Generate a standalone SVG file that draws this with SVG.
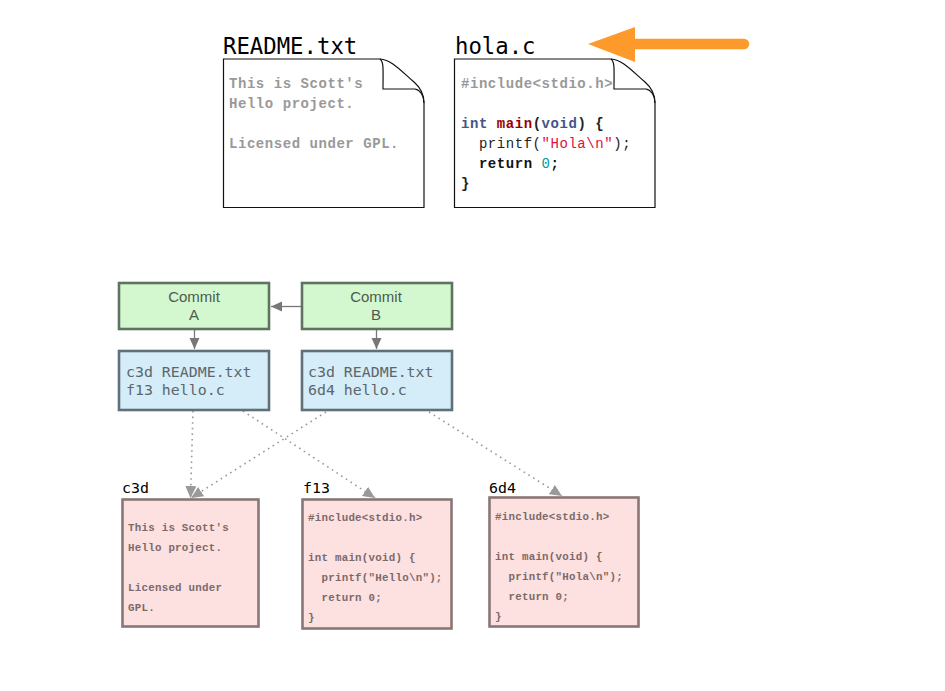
<svg xmlns="http://www.w3.org/2000/svg" width="945" height="691" viewBox="0 0 945 691">
<style>
.title{font-family:"DejaVu Sans Mono","Liberation Mono",monospace;font-size:22.3px;fill:#000}
.doc{font-family:"Liberation Mono",monospace;font-size:14px;letter-spacing:.55px;font-weight:bold}
.blob{font-family:"Liberation Mono",monospace;font-size:10.8px;letter-spacing:.25px;font-weight:bold;fill:#7a6a6a}
.page{fill:#fff;stroke:#111;stroke-width:1.2}
.fold{fill:none;stroke:#111;stroke-width:1.2}
.commit{fill:#d3f8d0;stroke:#5f7360;stroke-width:2.6}
.tree{fill:#d5edf8;stroke:#5f7078;stroke-width:2.6}
.blobbox{fill:#fde0e0;stroke:#8a7676;stroke-width:2.6}
.ct{font-family:"Liberation Sans",sans-serif;font-size:15px;fill:#4f5a4f;text-anchor:middle}
.tt{font-family:"DejaVu Sans Mono",monospace;font-size:14.9px;fill:#5c666c}
.lab{font-family:"DejaVu Sans Mono",monospace;font-size:14.9px;fill:#000}
.solid{stroke:#777;stroke-width:1.3;fill:none}
.dot{stroke:#999;stroke-width:1.6;stroke-dasharray:1.6 4;fill:none}
</style>
<defs>
<marker id="ah" markerUnits="userSpaceOnUse" markerWidth="12" markerHeight="12" refX="11" refY="6" orient="auto"><path d="M0,1 L11,6 L0,11 Z" fill="#777"/></marker>
<marker id="ad" markerUnits="userSpaceOnUse" markerWidth="13" markerHeight="13" refX="12" refY="6.500" orient="auto"><path d="M0,1 L12,6.500 L0,12 Z" fill="#999"/></marker>
</defs>
<g id="connectors">
<path class="solid" d="M302,306.500 L271,306.500" marker-end="url(#ah)"/>
<path class="solid" d="M194.500,330 L194.500,349" marker-end="url(#ah)"/>
<path class="solid" d="M376.500,330 L376.500,349" marker-end="url(#ah)"/>
<path class="dot" d="M193,411 L190.500,498" marker-end="url(#ad)"/>
<path class="dot" d="M326,412 L191,498" marker-end="url(#ad)"/>
<path class="dot" d="M243,411 L375,498" marker-end="url(#ad)"/>
<path class="dot" d="M429,412 L562,496" marker-end="url(#ad)"/>
<path d="M636,44 L744,44" stroke="#fd9a2b" stroke-width="10.500" stroke-linecap="round" fill="none"/>
<path d="M588,44 L635,27 L635,62 Z" fill="#fd9a2b"/>
</g>
<g id="readme">
<text class="title" x="223" y="54">README.txt</text>
<path class="page" d="M223.500,59 L380,59 C392,60 400,70 414,82 C421,88 424,94 424,103 L424,207.500 L223.500,207.500 Z"/>
<path class="fold" d="M380,59 C384,62 383,70 383,89 L415,89 C420,90 424,95 424,103"/>
<text class="doc" fill="#999" x="229" y="88">This is Scott's</text>
<text class="doc" fill="#999" x="229" y="108">Hello project.</text>
<text class="doc" fill="#999" x="229" y="148">Licensed under GPL.</text>
</g>
<g id="hola">
<text class="title" x="455" y="54">hola.c</text>
<path class="page" d="M454.500,59 L611,59 C623,60 631,70 645,82 C652,88 655,94 655,103 L655,207.500 L454.500,207.500 Z"/>
<path class="fold" d="M611,59 C615,62 614,70 614,89 L646,89 C651,90 655,95 655,103"/>
<text class="doc" fill="#999" x="461" y="88">#include&lt;stdio.h&gt;</text>
<text class="doc" x="461" y="128" fill="#222"><tspan fill="#445588">int</tspan> <tspan fill="#990000">main</tspan>(<tspan fill="#445588">void</tspan>) {</text>
<text class="doc" x="461" y="148" fill="#222" xml:space="preserve" style="font-weight:normal">  printf(<tspan fill="#dd1144">"Hola\n"</tspan>);</text>
<text class="doc" x="461" y="168" fill="#111" xml:space="preserve">  return <tspan fill="#009999" style="font-weight:normal">0</tspan>;</text>
<text class="doc" x="461" y="188" fill="#222">}</text>
</g>
<g id="commit-a">
<rect class="commit" x="119" y="283" width="150" height="46"/>
<text class="ct" x="194" y="302">Commit</text>
<text class="ct" x="194" y="320">A</text>
</g>
<g id="commit-b">
<rect class="commit" x="302" y="283" width="150" height="46"/>
<text class="ct" x="376" y="302">Commit</text>
<text class="ct" x="376" y="320">B</text>
</g>
<g id="tree-a">
<rect class="tree" x="119" y="351" width="150" height="59"/>
<text class="tt" x="126" y="377">c3d README.txt</text>
<text class="tt" x="126" y="395">f13 hello.c</text>
</g>
<g id="tree-b">
<rect class="tree" x="302" y="351" width="150" height="59"/>
<text class="tt" x="308" y="377">c3d README.txt</text>
<text class="tt" x="308" y="395">6d4 hello.c</text>
</g>
<g id="blob-c3d">
<text class="lab" x="122" y="493">c3d</text>
<rect class="blobbox" x="122.500" y="499.500" width="136" height="127"/>
<text class="blob" x="128" y="531">This is Scott's</text>
<text class="blob" x="128" y="551">Hello project.</text>
<text class="blob" x="128" y="591">Licensed under</text>
<text class="blob" x="128" y="611">GPL.</text>
</g>
<g id="blob-f13">
<text class="lab" x="303" y="493">f13</text>
<rect class="blobbox" x="302.500" y="499.500" width="149" height="129"/>
<text class="blob" x="308" y="521">#include&lt;stdio.h&gt;</text>
<text class="blob" x="308" y="561">int main(void) {</text>
<text class="blob" x="308" y="581" xml:space="preserve">  printf("Hello\n");</text>
<text class="blob" x="308" y="601" xml:space="preserve">  return 0;</text>
<text class="blob" x="308" y="621">}</text>
</g>
<g id="blob-6d4">
<text class="lab" x="489" y="493">6d4</text>
<rect class="blobbox" x="489.500" y="497.500" width="149" height="129"/>
<text class="blob" x="495" y="520">#include&lt;stdio.h&gt;</text>
<text class="blob" x="495" y="560">int main(void) {</text>
<text class="blob" x="495" y="580" xml:space="preserve">  printf("Hola\n");</text>
<text class="blob" x="495" y="600" xml:space="preserve">  return 0;</text>
<text class="blob" x="495" y="620">}</text>
</g>
</svg>
